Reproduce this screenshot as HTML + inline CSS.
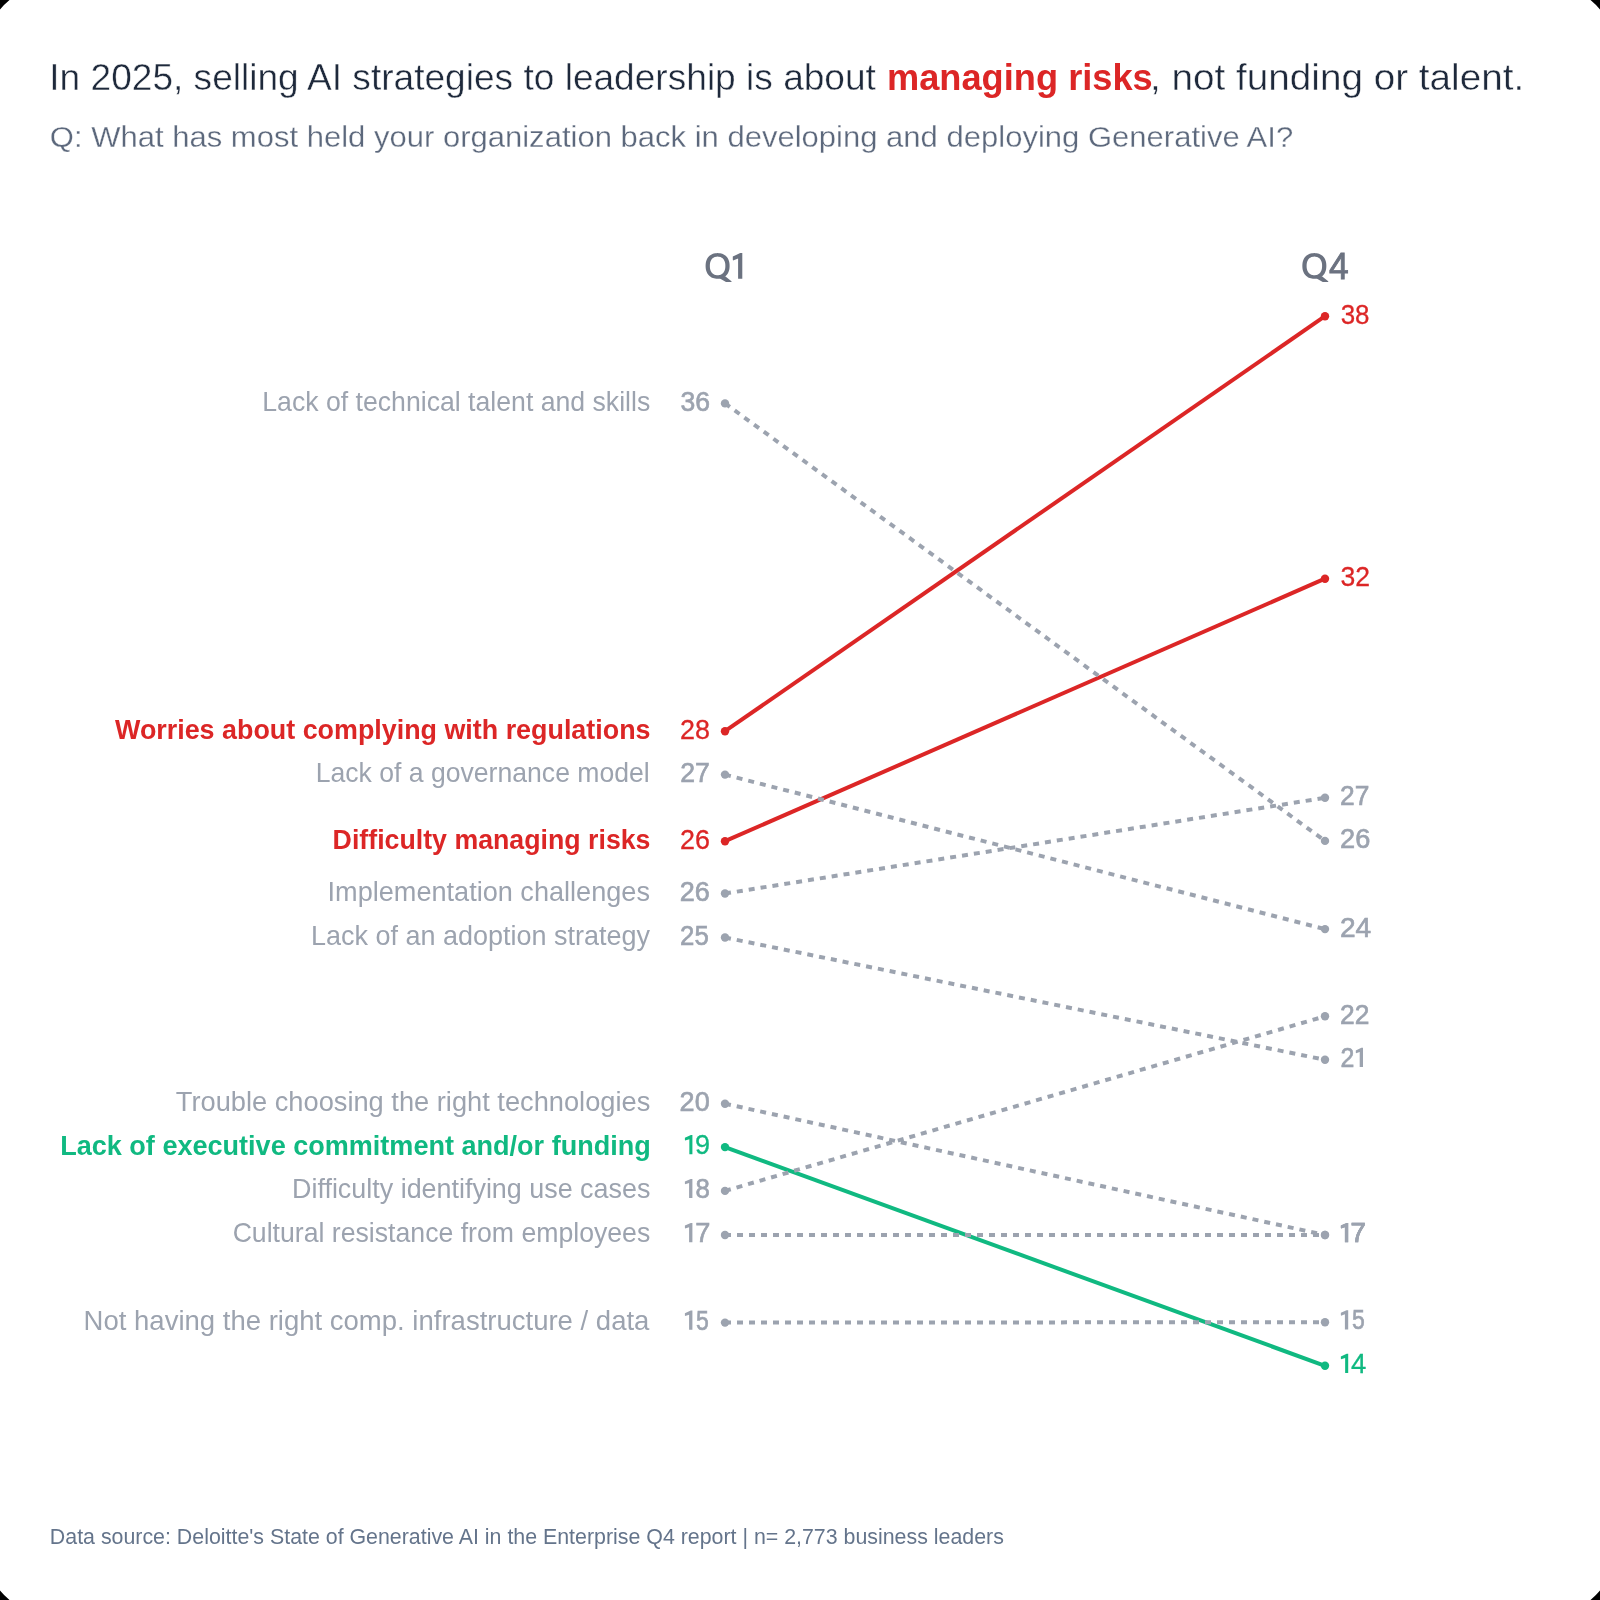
<!DOCTYPE html>
<html><head><meta charset="utf-8"><title>Slope chart</title>
<style>
html,body{margin:0;padding:0;background:#000;}
body{width:1600px;height:1600px;overflow:hidden;position:relative;}
.card{position:absolute;left:0;top:0;width:1600px;height:1600px;background:#fff;overflow:hidden;}
svg{position:absolute;left:0;top:0;will-change:transform;}
text{font-family:"Liberation Sans",sans-serif;}
</style></head><body><div class="card">
<svg width="1600" height="1600" viewBox="0 0 1600 1600">
<path d="M0.00 0.00 L9.50 0.00 Q4.30 4.30 0.00 9.50 Z M1600.00 0.00 L1590.50 0.00 Q1595.70 4.30 1600.00 9.50 Z M0.00 1600.00 L9.50 1600.00 Q4.30 1595.70 0.00 1590.50 Z M1600.00 1600.00 L1590.50 1600.00 Q1595.70 1595.70 1600.00 1590.50 Z" fill="#000"/>
<g fill="none">
<line x1="725" y1="731.20" x2="1325" y2="316.20" stroke="#dc2626" stroke-width="4.00"/>
<line x1="725" y1="841.20" x2="1325" y2="578.70" stroke="#dc2626" stroke-width="4.00"/>
<line x1="725" y1="1147.10" x2="1325" y2="1365.80" stroke="#10b981" stroke-width="4.00"/>
<line x1="725" y1="403.40" x2="1325" y2="840.90" stroke="#9ca3af" stroke-width="4.00" stroke-dasharray="6 6"/>
<line x1="725" y1="774.60" x2="1325" y2="929.10" stroke="#9ca3af" stroke-width="4.00" stroke-dasharray="6 6"/>
<line x1="725" y1="893.50" x2="1325" y2="797.80" stroke="#9ca3af" stroke-width="4.00" stroke-dasharray="6 6"/>
<line x1="725" y1="937.50" x2="1325" y2="1059.80" stroke="#9ca3af" stroke-width="4.00" stroke-dasharray="6 6"/>
<line x1="725" y1="1103.70" x2="1325" y2="1235.00" stroke="#9ca3af" stroke-width="4.00" stroke-dasharray="6 6"/>
<line x1="725" y1="1190.90" x2="1325" y2="1016.30" stroke="#9ca3af" stroke-width="4.00" stroke-dasharray="6 6"/>
<line x1="725" y1="1235.00" x2="1325" y2="1235.00" stroke="#9ca3af" stroke-width="4.00" stroke-dasharray="6 6"/>
<line x1="725" y1="1322.60" x2="1325" y2="1322.20" stroke="#9ca3af" stroke-width="4.00" stroke-dasharray="6 6"/>
</g>
<circle cx="725" cy="403.40" r="4.20" fill="#9ca3af"/><circle cx="1325" cy="840.90" r="4.20" fill="#9ca3af"/>
<circle cx="725" cy="731.20" r="4.20" fill="#dc2626"/><circle cx="1325" cy="316.20" r="4.20" fill="#dc2626"/>
<circle cx="725" cy="774.60" r="4.20" fill="#9ca3af"/><circle cx="1325" cy="929.10" r="4.20" fill="#9ca3af"/>
<circle cx="725" cy="841.20" r="4.20" fill="#dc2626"/><circle cx="1325" cy="578.70" r="4.20" fill="#dc2626"/>
<circle cx="725" cy="893.50" r="4.20" fill="#9ca3af"/><circle cx="1325" cy="797.80" r="4.20" fill="#9ca3af"/>
<circle cx="725" cy="937.50" r="4.20" fill="#9ca3af"/><circle cx="1325" cy="1059.80" r="4.20" fill="#9ca3af"/>
<circle cx="725" cy="1103.70" r="4.20" fill="#9ca3af"/><circle cx="1325" cy="1235.00" r="4.20" fill="#9ca3af"/>
<circle cx="725" cy="1147.10" r="4.20" fill="#10b981"/><circle cx="1325" cy="1365.80" r="4.20" fill="#10b981"/>
<circle cx="725" cy="1190.90" r="4.20" fill="#9ca3af"/><circle cx="1325" cy="1016.30" r="4.20" fill="#9ca3af"/>
<circle cx="725" cy="1235.00" r="4.20" fill="#9ca3af"/><circle cx="1325" cy="1235.00" r="4.20" fill="#9ca3af"/>
<circle cx="725" cy="1322.60" r="4.20" fill="#9ca3af"/><circle cx="1325" cy="1322.20" r="4.20" fill="#9ca3af"/>
<path class="one" fill-rule="evenodd" d="M729.60 265.90 L729.56 267.36 L729.44 268.60 L729.24 269.75 L728.95 270.83 L728.60 271.85 L728.16 272.81 L727.65 273.71 L727.07 274.54 L726.42 275.31 L725.70 276.00 L724.92 276.62 L724.08 277.16 L723.18 277.63 L722.22 278.01 L721.21 278.31 L720.13 278.53 L718.97 278.66 L717.60 278.70 L716.23 278.66 L715.07 278.53 L713.99 278.31 L712.98 278.01 L712.02 277.63 L711.12 277.16 L710.28 276.62 L709.50 276.00 L708.78 275.31 L708.13 274.54 L707.55 273.71 L707.04 272.81 L706.60 271.85 L706.25 270.83 L705.96 269.75 L705.76 268.60 L705.64 267.36 L705.60 265.90 L705.64 264.44 L705.76 263.20 L705.96 262.05 L706.25 260.97 L706.60 259.95 L707.04 258.99 L707.55 258.09 L708.13 257.26 L708.78 256.49 L709.50 255.80 L710.28 255.18 L711.12 254.64 L712.02 254.17 L712.98 253.79 L713.99 253.49 L715.07 253.27 L716.23 253.14 L717.60 253.10 L718.97 253.14 L720.13 253.27 L721.21 253.49 L722.22 253.79 L723.18 254.17 L724.08 254.64 L724.92 255.18 L725.70 255.80 L726.42 256.49 L727.07 257.26 L727.65 258.09 L728.16 258.99 L728.60 259.95 L728.95 260.97 L729.24 262.05 L729.44 263.20 L729.56 264.44 Z M725.35 265.90 L725.32 266.96 L725.25 267.86 L725.11 268.70 L724.93 269.48 L724.70 270.23 L724.42 270.92 L724.09 271.57 L723.72 272.18 L723.30 272.73 L722.83 273.24 L722.33 273.69 L721.79 274.08 L721.20 274.42 L720.59 274.70 L719.93 274.92 L719.23 275.07 L718.49 275.17 L717.60 275.20 L716.71 275.17 L715.97 275.07 L715.27 274.92 L714.61 274.70 L714.00 274.42 L713.41 274.08 L712.87 273.69 L712.37 273.24 L711.90 272.73 L711.48 272.18 L711.11 271.57 L710.78 270.92 L710.50 270.23 L710.27 269.48 L710.09 268.70 L709.95 267.86 L709.88 266.96 L709.85 265.90 L709.88 264.84 L709.95 263.94 L710.09 263.10 L710.27 262.32 L710.50 261.57 L710.78 260.88 L711.11 260.23 L711.48 259.62 L711.90 259.07 L712.37 258.56 L712.87 258.11 L713.41 257.72 L714.00 257.38 L714.61 257.10 L715.27 256.88 L715.97 256.73 L716.71 256.63 L717.60 256.60 L718.49 256.63 L719.23 256.73 L719.93 256.88 L720.59 257.10 L721.20 257.38 L721.79 257.72 L722.33 258.11 L722.83 258.56 L723.30 259.07 L723.72 259.62 L724.09 260.23 L724.42 260.88 L724.70 261.57 L724.93 262.32 L725.11 263.10 L725.25 263.94 L725.32 264.84 Z" fill="#6b7280"/><path class="one" d="M719.00 275.60 L725.20 276.35 L731.75 281.45 L731.20 281.90 L726.00 281.90 L719.00 278.00 Z" fill="#6b7280"/>
<path class="one" fill-rule="evenodd" d="M1326.35 265.90 L1326.31 267.36 L1326.19 268.60 L1325.99 269.75 L1325.70 270.83 L1325.35 271.85 L1324.91 272.81 L1324.40 273.71 L1323.82 274.54 L1323.17 275.31 L1322.45 276.00 L1321.67 276.62 L1320.83 277.16 L1319.93 277.63 L1318.97 278.01 L1317.96 278.31 L1316.88 278.53 L1315.72 278.66 L1314.35 278.70 L1312.98 278.66 L1311.82 278.53 L1310.74 278.31 L1309.73 278.01 L1308.77 277.63 L1307.87 277.16 L1307.03 276.62 L1306.25 276.00 L1305.53 275.31 L1304.88 274.54 L1304.30 273.71 L1303.79 272.81 L1303.35 271.85 L1303.00 270.83 L1302.71 269.75 L1302.51 268.60 L1302.39 267.36 L1302.35 265.90 L1302.39 264.44 L1302.51 263.20 L1302.71 262.05 L1303.00 260.97 L1303.35 259.95 L1303.79 258.99 L1304.30 258.09 L1304.88 257.26 L1305.53 256.49 L1306.25 255.80 L1307.03 255.18 L1307.87 254.64 L1308.77 254.17 L1309.73 253.79 L1310.74 253.49 L1311.82 253.27 L1312.98 253.14 L1314.35 253.10 L1315.72 253.14 L1316.88 253.27 L1317.96 253.49 L1318.97 253.79 L1319.93 254.17 L1320.83 254.64 L1321.67 255.18 L1322.45 255.80 L1323.17 256.49 L1323.82 257.26 L1324.40 258.09 L1324.91 258.99 L1325.35 259.95 L1325.70 260.97 L1325.99 262.05 L1326.19 263.20 L1326.31 264.44 Z M1322.10 265.90 L1322.07 266.96 L1322.00 267.86 L1321.86 268.70 L1321.68 269.48 L1321.45 270.23 L1321.17 270.92 L1320.84 271.57 L1320.47 272.18 L1320.05 272.73 L1319.58 273.24 L1319.08 273.69 L1318.54 274.08 L1317.95 274.42 L1317.34 274.70 L1316.68 274.92 L1315.98 275.07 L1315.24 275.17 L1314.35 275.20 L1313.46 275.17 L1312.72 275.07 L1312.02 274.92 L1311.36 274.70 L1310.75 274.42 L1310.16 274.08 L1309.62 273.69 L1309.12 273.24 L1308.65 272.73 L1308.23 272.18 L1307.86 271.57 L1307.53 270.92 L1307.25 270.23 L1307.02 269.48 L1306.84 268.70 L1306.70 267.86 L1306.63 266.96 L1306.60 265.90 L1306.63 264.84 L1306.70 263.94 L1306.84 263.10 L1307.02 262.32 L1307.25 261.57 L1307.53 260.88 L1307.86 260.23 L1308.23 259.62 L1308.65 259.07 L1309.12 258.56 L1309.62 258.11 L1310.16 257.72 L1310.75 257.38 L1311.36 257.10 L1312.02 256.88 L1312.72 256.73 L1313.46 256.63 L1314.35 256.60 L1315.24 256.63 L1315.98 256.73 L1316.68 256.88 L1317.34 257.10 L1317.95 257.38 L1318.54 257.72 L1319.08 258.11 L1319.58 258.56 L1320.05 259.07 L1320.47 259.62 L1320.84 260.23 L1321.17 260.88 L1321.45 261.57 L1321.68 262.32 L1321.86 263.10 L1322.00 263.94 L1322.07 264.84 Z" fill="#6b7280"/><path class="one" d="M1315.75 275.60 L1321.95 276.35 L1328.50 281.45 L1327.95 281.90 L1322.75 281.90 L1315.75 278.00 Z" fill="#6b7280"/>
<path class="one" d="M1363.00 1047.80 L1363.00 1067.00 L1359.70 1067.00 L1359.70 1051.93 L1356.05 1053.27 L1355.80 1052.60 L1355.80 1050.39 L1361.35 1047.80 Z" fill="#9ca3af"/>
<path class="one" d="M1348.20 1223.00 L1348.20 1242.20 L1344.90 1242.20 L1344.90 1227.13 L1341.10 1228.47 L1340.85 1227.80 L1340.85 1225.59 L1346.55 1223.00 Z" fill="#9ca3af"/>
<path class="one" d="M692.40 1135.10 L692.40 1154.30 L689.35 1154.30 L689.35 1139.23 L685.15 1140.57 L684.90 1139.90 L684.90 1137.69 L690.88 1135.10 Z" fill="#10b981"/>
<path class="one" d="M1348.20 1353.80 L1348.20 1373.00 L1345.15 1373.00 L1345.15 1357.93 L1341.10 1359.27 L1340.85 1358.60 L1340.85 1356.39 L1346.68 1353.80 Z" fill="#10b981"/>
<path class="one" d="M692.40 1178.90 L692.40 1198.10 L689.10 1198.10 L689.10 1183.03 L685.15 1184.37 L684.90 1183.70 L684.90 1181.49 L690.75 1178.90 Z" fill="#9ca3af"/>
<path class="one" d="M692.40 1223.00 L692.40 1242.20 L689.10 1242.20 L689.10 1227.13 L685.15 1228.47 L684.90 1227.80 L684.90 1225.59 L690.75 1223.00 Z" fill="#9ca3af"/>
<path class="one" d="M1348.20 1223.00 L1348.20 1242.20 L1344.90 1242.20 L1344.90 1227.13 L1341.10 1228.47 L1340.85 1227.80 L1340.85 1225.59 L1346.55 1223.00 Z" fill="#9ca3af"/>
<path class="one" d="M692.40 1310.60 L692.40 1329.80 L689.10 1329.80 L689.10 1314.73 L685.15 1316.07 L684.90 1315.40 L684.90 1313.19 L690.75 1310.60 Z" fill="#9ca3af"/>
<path class="one" d="M1348.20 1310.20 L1348.20 1329.40 L1344.90 1329.40 L1344.90 1314.33 L1341.10 1315.67 L1340.85 1315.00 L1340.85 1312.79 L1346.55 1310.20 Z" fill="#9ca3af"/>
<path class="one" d="M742.30 253.10 L742.30 278.75 L738.10 278.75 L738.10 258.61 L733.05 260.41 L732.80 259.51 L732.80 256.56 L740.20 253.10 Z" fill="#6b7280"/>
<text id="title1" x="49.30" y="90.40" font-size="37.50" fill="#1e293b" font-weight="400" textLength="826.63" lengthAdjust="spacingAndGlyphs" stroke="#fff" stroke-width="0.45">In 2025, selling AI strategies to leadership is about</text>
<text id="title2" x="886.97" y="90.40" font-size="37.50" fill="#dc2626" font-weight="700" textLength="265.80" lengthAdjust="spacingAndGlyphs">managing risks</text>
<text id="title3" x="1150.03" y="90.40" font-size="37.50" fill="#1e293b" font-weight="400" textLength="374.22" lengthAdjust="spacingAndGlyphs" stroke="#fff" stroke-width="0.45">, not funding or talent.</text>
<text id="sub" x="49.79" y="146.80" font-size="30.00" fill="#5c687c" font-weight="400" textLength="1243.36" lengthAdjust="spacingAndGlyphs" stroke="#fff" stroke-width="0.30">Q: What has most held your organization back in developing and deploying Generative AI?</text>
<text id="Q4n" x="1329.00" y="278.75" font-size="36.00" fill="#6b7280" font-weight="400" textLength="19.68" lengthAdjust="spacingAndGlyphs" stroke="#6b7280" stroke-width="0.90">4</text>
<text id="L0" x="262.31" y="410.80" font-size="27.50" fill="#9ca3af" font-weight="400" textLength="387.96" lengthAdjust="spacingAndGlyphs">Lack of technical talent and skills</text>
<text id="A0" x="680.43" y="410.80" font-size="27.50" fill="#9ca3af" font-weight="400" textLength="29.54" lengthAdjust="spacingAndGlyphs" stroke="#9ca3af" stroke-width="0.65">36</text>
<text id="B0" x="1340.01" y="848.30" font-size="27.50" fill="#9ca3af" font-weight="400" textLength="30.28" lengthAdjust="spacingAndGlyphs" stroke="#9ca3af" stroke-width="0.65">26</text>
<text id="L1" x="115.00" y="738.60" font-size="27.50" fill="#dc2626" font-weight="700" textLength="535.49" lengthAdjust="spacingAndGlyphs">Worries about complying with regulations</text>
<text id="A1" x="679.92" y="738.60" font-size="27.50" fill="#dc2626" font-weight="400" textLength="29.96" lengthAdjust="spacingAndGlyphs" stroke="#dc2626" stroke-width="0.30">28</text>
<text id="B1" x="1340.67" y="323.60" font-size="27.50" fill="#dc2626" font-weight="400" textLength="28.89" lengthAdjust="spacingAndGlyphs" stroke="#dc2626" stroke-width="0.30">38</text>
<text id="L2" x="315.67" y="782.00" font-size="27.50" fill="#9ca3af" font-weight="400" textLength="334.08" lengthAdjust="spacingAndGlyphs">Lack of a governance model</text>
<text id="A2" x="680.23" y="782.00" font-size="27.50" fill="#9ca3af" font-weight="400" textLength="29.64" lengthAdjust="spacingAndGlyphs" stroke="#9ca3af" stroke-width="0.65">27</text>
<text id="B2" x="1339.98" y="936.50" font-size="27.50" fill="#9ca3af" font-weight="400" textLength="31.26" lengthAdjust="spacingAndGlyphs" stroke="#9ca3af" stroke-width="0.65">24</text>
<text id="L3" x="332.62" y="848.60" font-size="27.50" fill="#dc2626" font-weight="700" textLength="317.89" lengthAdjust="spacingAndGlyphs">Difficulty managing risks</text>
<text id="A3" x="679.92" y="848.60" font-size="27.50" fill="#dc2626" font-weight="400" textLength="29.96" lengthAdjust="spacingAndGlyphs" stroke="#dc2626" stroke-width="0.30">26</text>
<text id="B3" x="1340.55" y="586.10" font-size="27.50" fill="#dc2626" font-weight="400" textLength="29.58" lengthAdjust="spacingAndGlyphs" stroke="#dc2626" stroke-width="0.30">32</text>
<text id="L4" x="327.53" y="900.90" font-size="27.50" fill="#9ca3af" font-weight="400" textLength="322.46" lengthAdjust="spacingAndGlyphs">Implementation challenges</text>
<text id="A4" x="679.82" y="900.90" font-size="27.50" fill="#9ca3af" font-weight="400" textLength="30.07" lengthAdjust="spacingAndGlyphs" stroke="#9ca3af" stroke-width="0.65">26</text>
<text id="B4" x="1340.04" y="805.20" font-size="27.50" fill="#9ca3af" font-weight="400" textLength="29.33" lengthAdjust="spacingAndGlyphs" stroke="#9ca3af" stroke-width="0.65">27</text>
<text id="L5" x="311.04" y="944.90" font-size="27.50" fill="#9ca3af" font-weight="400" textLength="338.88" lengthAdjust="spacingAndGlyphs">Lack of an adoption strategy</text>
<text id="A5" x="680.06" y="944.90" font-size="27.50" fill="#9ca3af" font-weight="400" textLength="28.69" lengthAdjust="spacingAndGlyphs" stroke="#9ca3af" stroke-width="0.65">25</text>
<text id="B5d" x="1340.39" y="1067.00" font-size="27.50" fill="#9ca3af" font-weight="400" textLength="13.86" lengthAdjust="spacingAndGlyphs" stroke="#9ca3af" stroke-width="0.65">2</text>
<text id="L6" x="175.82" y="1111.10" font-size="27.50" fill="#9ca3af" font-weight="400" textLength="474.49" lengthAdjust="spacingAndGlyphs">Trouble choosing the right technologies</text>
<text id="A6" x="679.62" y="1111.10" font-size="27.50" fill="#9ca3af" font-weight="400" textLength="30.07" lengthAdjust="spacingAndGlyphs" stroke="#9ca3af" stroke-width="0.65">20</text>
<text id="B6d" x="1350.50" y="1242.20" font-size="27.50" fill="#9ca3af" font-weight="400" textLength="15.36" lengthAdjust="spacingAndGlyphs" stroke="#9ca3af" stroke-width="0.65">7</text>
<text id="L7" x="60.20" y="1154.50" font-size="27.50" fill="#10b981" font-weight="700" textLength="590.59" lengthAdjust="spacingAndGlyphs">Lack of executive commitment and/or funding</text>
<text id="A7d" x="695.02" y="1154.30" font-size="27.50" fill="#10b981" font-weight="400" textLength="15.06" lengthAdjust="spacingAndGlyphs" stroke="#10b981" stroke-width="0.30">9</text>
<text id="B7d" x="1351.10" y="1373.00" font-size="27.50" fill="#10b981" font-weight="400" textLength="15.30" lengthAdjust="spacingAndGlyphs" stroke="#10b981" stroke-width="0.30">4</text>
<text id="L8" x="292.04" y="1198.30" font-size="27.50" fill="#9ca3af" font-weight="400" textLength="358.35" lengthAdjust="spacingAndGlyphs">Difficulty identifying use cases</text>
<text id="A8d" x="695.55" y="1198.10" font-size="27.50" fill="#9ca3af" font-weight="400" textLength="14.37" lengthAdjust="spacingAndGlyphs" stroke="#9ca3af" stroke-width="0.65">8</text>
<text id="B8" x="1340.04" y="1023.70" font-size="27.50" fill="#9ca3af" font-weight="400" textLength="29.33" lengthAdjust="spacingAndGlyphs" stroke="#9ca3af" stroke-width="0.65">22</text>
<text id="L9" x="232.63" y="1242.40" font-size="27.50" fill="#9ca3af" font-weight="400" textLength="417.65" lengthAdjust="spacingAndGlyphs">Cultural resistance from employees</text>
<text id="A9d" x="695.31" y="1242.20" font-size="27.50" fill="#9ca3af" font-weight="400" textLength="15.13" lengthAdjust="spacingAndGlyphs" stroke="#9ca3af" stroke-width="0.65">7</text>
<text id="B9d" x="1350.50" y="1242.20" font-size="27.50" fill="#9ca3af" font-weight="400" textLength="15.36" lengthAdjust="spacingAndGlyphs" stroke="#9ca3af" stroke-width="0.65">7</text>
<text id="L10" x="83.60" y="1330.00" font-size="27.50" fill="#9ca3af" font-weight="400" textLength="565.80" lengthAdjust="spacingAndGlyphs">Not having the right comp. infrastructure / data</text>
<text id="A10d" x="695.88" y="1329.80" font-size="27.50" fill="#9ca3af" font-weight="400" textLength="12.79" lengthAdjust="spacingAndGlyphs" stroke="#9ca3af" stroke-width="0.65">5</text>
<text id="B10d" x="1351.88" y="1329.40" font-size="27.50" fill="#9ca3af" font-weight="400" textLength="12.79" lengthAdjust="spacingAndGlyphs" stroke="#9ca3af" stroke-width="0.65">5</text>
<text id="foot" x="49.85" y="1543.80" font-size="22.00" fill="#64748b" font-weight="400" textLength="953.98" lengthAdjust="spacingAndGlyphs">Data source: Deloitte's State of Generative AI in the Enterprise Q4 report | n= 2,773 business leaders</text>
</svg></div></body></html>
